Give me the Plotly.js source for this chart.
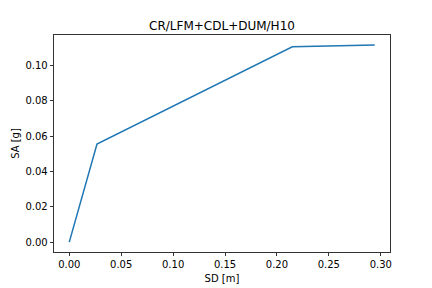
<!DOCTYPE html>
<html><head><meta charset="utf-8">
<script src="https://cdn.plot.ly/plotly-3.0.1.min.js"></script>
<style>html,body{margin:0;padding:0;background:#fff}#chart{width:432px;height:288px}</style>
</head><body><div id="chart"></div>
<script>
const sd = [0.0, 0.0267, 0.2148, 0.2942];
const sa = [0.0, 0.0556, 0.1107, 0.1118];
const titleText = "CR/LFM+CDL+DUM/H10";
const xLabel = "SD [m]";
const yLabel = "SA [g]";
const font = "DejaVu Sans, sans-serif";
const axisCommon = {
  showline: true, mirror: true, linecolor: "#000", linewidth: 0.8,
  ticks: "outside", ticklen: 3.5, tickwidth: 0.8, tickcolor: "#000",
  showgrid: false, zeroline: false, tickformat: ".2f",
  tickfont: {family: font, size: 10, color: "#000"}
};
Plotly.newPlot("chart", [{
  x: sd, y: sa, type: "scatter", mode: "lines",
  line: {color: "#1f77b4", width: 1.5}
}], {
  width: 432, height: 288,
  margin: {l: 54, r: 42.3, t: 35, b: 36},
  paper_bgcolor: "#fff", plot_bgcolor: "#fff",
  showlegend: false,
  title: {text: titleText, font: {family: font, size: 12, color: "#000"},
    x: 0.5, xref: "paper", y: 1 - 30/288, yref: "container", yanchor: "bottom"},
  xaxis: Object.assign({}, axisCommon, {
    range: [-0.0147, 0.3089], dtick: 0.05, tick0: 0,
    title: {text: xLabel, font: {family: font, size: 10, color: "#000"}, standoff: 5}
  }),
  yaxis: Object.assign({}, axisCommon, {
    range: [-0.0056, 0.1174], dtick: 0.02, tick0: 0,
    title: {text: yLabel, font: {family: font, size: 10, color: "#000"}, standoff: 3}
  })
}, {staticPlot: true, displayModeBar: false});
</script></body></html>
